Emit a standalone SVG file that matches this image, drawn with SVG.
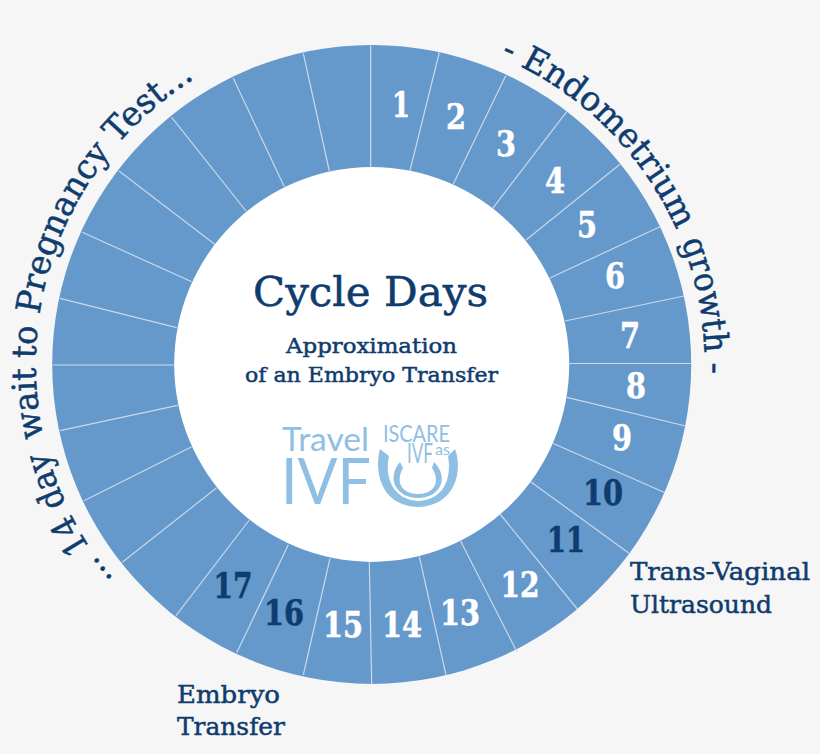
<svg xmlns="http://www.w3.org/2000/svg" width="820" height="754" viewBox="0 0 820 754">
<style>
.s{font-family:"DejaVu Serif","Liberation Serif",serif;fill:#0f3c6e;stroke:#0f3c6e;stroke-width:.5}
.d{font-family:"DejaVu Serif","Liberation Serif",serif;font-weight:700;font-size:35px;text-anchor:middle;fill:#fff;stroke:#fff;stroke-width:.6}
.d.k{fill:#0f3c6e;stroke:#0f3c6e}
#connectors line{stroke:#c9d9ea;stroke-width:1.2}
.l{font-family:"Lato","Liberation Sans",sans-serif;fill:#8fc0e3}
</style>
<defs>
<path id="arcR" d="M500.2 57.2A333 333 0 0 1 704.1 384.7"/>
<path id="arcL" d="M113.2 579A336 336 0 0 1 194.6 78.8"/>
</defs>
<rect width="820" height="754" fill="#f6f6f6"/>
<circle id="ring" cx="371.7" cy="364.4" r="319.5" fill="#6598cb"/>
<g id="connectors">
<line x1="370.7" y1="45.5" x2="370.7" y2="167"/>
<line x1="439.3" y1="52.5" x2="410" y2="170.7"/>
<line x1="505.7" y1="75.7" x2="453.3" y2="184"/>
<line x1="566.7" y1="111.7" x2="492.7" y2="208.3"/>
<line x1="620" y1="164.3" x2="526" y2="240"/>
<line x1="660" y1="226.7" x2="549.3" y2="278.3"/>
<line x1="684" y1="296" x2="565" y2="321"/>
<line x1="691.5" y1="363.5" x2="568.5" y2="363.5"/>
<line x1="685.7" y1="426" x2="566.7" y2="397.3"/>
<line x1="665" y1="492.7" x2="552.7" y2="443.3"/>
<line x1="629" y1="553.3" x2="530.7" y2="481.7"/>
<line x1="577.3" y1="609" x2="500" y2="514"/>
<line x1="517" y1="652" x2="460.5" y2="540.8"/>
<line x1="446" y1="675" x2="419.3" y2="556.7"/>
<line x1="371.7" y1="684" x2="369.3" y2="562"/>
<line x1="303.3" y1="675" x2="330" y2="558.3"/>
<line x1="236.7" y1="652.7" x2="288.3" y2="544.7"/>
<line x1="176" y1="615.6" x2="249.3" y2="520"/>
<line x1="122.3" y1="562.3" x2="216.7" y2="487.7"/>
<line x1="84" y1="500.7" x2="191.7" y2="446.7"/>
<line x1="60" y1="430.7" x2="177.7" y2="405.3"/>
<line x1="52.5" y1="365" x2="174" y2="365"/>
<line x1="60" y1="298.3" x2="176.7" y2="327.7"/>
<line x1="82.3" y1="232.3" x2="191.7" y2="281.7"/>
<line x1="119" y1="171" x2="215" y2="244.5"/>
<line x1="171.7" y1="117.3" x2="246" y2="211"/>
<line x1="233.3" y1="78.3" x2="284.3" y2="186.7"/>
<line x1="303.3" y1="53.3" x2="329.3" y2="171"/>
</g>
<circle id="hub" cx="371.7" cy="364.4" r="197.5" fill="#fff"/>
<g id="day1"><text class="d" x="401" y="117" textLength="18" lengthAdjust="spacingAndGlyphs">1</text></g>
<g id="day2"><text class="d" x="456" y="129" textLength="20" lengthAdjust="spacingAndGlyphs">2</text></g>
<g id="day3"><text class="d" x="506" y="156" textLength="20" lengthAdjust="spacingAndGlyphs">3</text></g>
<g id="day4"><text class="d" x="555" y="193" textLength="20" lengthAdjust="spacingAndGlyphs">4</text></g>
<g id="day5"><text class="d" x="587" y="237" textLength="20" lengthAdjust="spacingAndGlyphs">5</text></g>
<g id="day6"><text class="d" x="615" y="288" textLength="20" lengthAdjust="spacingAndGlyphs">6</text></g>
<g id="day7"><text class="d" x="630" y="348" textLength="20" lengthAdjust="spacingAndGlyphs">7</text></g>
<g id="day8"><text class="d" x="636" y="398" textLength="20" lengthAdjust="spacingAndGlyphs">8</text></g>
<g id="day9"><text class="d" x="622" y="450" textLength="20" lengthAdjust="spacingAndGlyphs">9</text></g>
<g id="day10"><text class="d k" x="603" y="505" textLength="40" lengthAdjust="spacingAndGlyphs">10</text></g>
<g id="day11"><text class="d k" x="566" y="552" textLength="38" lengthAdjust="spacingAndGlyphs">11</text></g>
<g id="day12"><text class="d" x="520" y="597" textLength="39" lengthAdjust="spacingAndGlyphs">12</text></g>
<g id="day13"><text class="d" x="460" y="625" textLength="40" lengthAdjust="spacingAndGlyphs">13</text></g>
<g id="day14"><text class="d" x="402" y="637" textLength="40" lengthAdjust="spacingAndGlyphs">14</text></g>
<g id="day15"><text class="d" x="343" y="637" textLength="40" lengthAdjust="spacingAndGlyphs">15</text></g>
<g id="day16"><text class="d k" x="284" y="625" textLength="40" lengthAdjust="spacingAndGlyphs">16</text></g>
<g id="day17"><text class="d k" x="233" y="598" textLength="39" lengthAdjust="spacingAndGlyphs">17</text></g>
<g id="title">
<text class="s" x="253" y="306" font-size="41" textLength="235" lengthAdjust="spacingAndGlyphs">Cycle Days</text>
<text class="s" x="286" y="353" font-size="21" textLength="171" lengthAdjust="spacingAndGlyphs">Approximation</text>
<text class="s" x="245" y="382" font-size="21" textLength="253" lengthAdjust="spacingAndGlyphs">of an Embryo Transfer</text>
</g>
<g id="endometrium"><text class="s" font-size="34"><textPath href="#arcR" textLength="252.8" lengthAdjust="spacingAndGlyphs">- Endometrium</textPath><textPath href="#arcR" startOffset="265.6" textLength="113.9" lengthAdjust="spacingAndGlyphs">growth</textPath><textPath href="#arcR" startOffset="389">-</textPath></text></g>
<g id="wait"><text class="s" font-size="34"><textPath href="#arcL" textLength="144.8" lengthAdjust="spacingAndGlyphs">... 14 day</textPath><textPath href="#arcL" startOffset="159.5" textLength="70" lengthAdjust="spacingAndGlyphs">wait</textPath><textPath href="#arcL" startOffset="238.7" textLength="32" lengthAdjust="spacingAndGlyphs">to</textPath><textPath href="#arcL" startOffset="282.6" textLength="291.4" lengthAdjust="spacingAndGlyphs">Pregnancy Test...</textPath></text></g>
<g id="tvu">
<text class="s" x="630" y="580" font-size="25" textLength="180" lengthAdjust="spacingAndGlyphs">Trans-Vaginal</text>
<text class="s" x="630" y="613" font-size="25" textLength="142" lengthAdjust="spacingAndGlyphs">Ultrasound</text>
</g>
<g id="embryo">
<text class="s" x="177" y="703" font-size="25" textLength="103" lengthAdjust="spacingAndGlyphs">Embryo</text>
<text class="s" x="177" y="735" font-size="25" textLength="108" lengthAdjust="spacingAndGlyphs">Transfer</text>
</g>
<g id="logo">
<text class="l" x="282" y="451" font-size="32" textLength="87" lengthAdjust="spacingAndGlyphs">Travel</text>
<text class="l" x="281" y="504" font-size="64" textLength="90" lengthAdjust="spacingAndGlyphs">IVF</text>
<text class="l" x="383" y="442" font-size="23" textLength="67" lengthAdjust="spacingAndGlyphs">ISCARE</text>
<text class="l" x="407" y="463" font-size="27" textLength="26" lengthAdjust="spacingAndGlyphs">IVF</text>
<text class="l" x="435" y="455" font-size="15" textLength="15" lengthAdjust="spacingAndGlyphs">as</text>
<path fill="#8fc0e3" d="M380 449C374 470 380 506 418 507C456 506 463 470 455 449L448 456C452 478 444 500 418 501C394 500 384 478 389 456Z"/>
<path fill="#8fc0e3" d="M400 462C386 478 396 498 418 498C440 498 450 478 434 462L432 468C441 482 434 494 418 494C402 494 395 482 403 468Z"/>
</g>
</svg>
